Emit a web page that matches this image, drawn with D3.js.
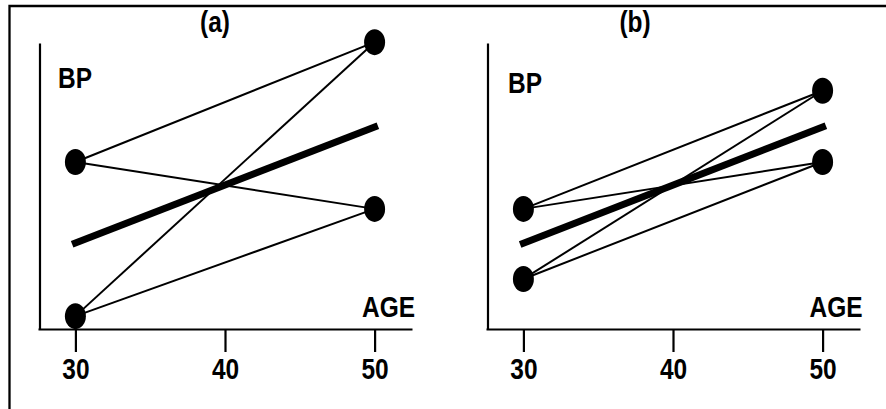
<!DOCTYPE html>
<html>
<head>
<meta charset="utf-8">
<script src="https://cdn.jsdelivr.net/npm/d3@7"></script>
<style>
  body { margin: 0; background: #fff; }
  text { font-family: "Liberation Sans", Arial, sans-serif; font-weight: bold; fill: #000; }
</style>
</head>
<body>
<script>
// panel data: BP (arbitrary units) at age 30 and age 50
const panels = ["(a)", "(b)"];
const ages = [30, 50];
const tickAges = [30, 40, 50];
const leftBP = [[4.5, 58.4], [42.0, 17.5]];
const rightBP = [[100.3, 42.0], [83.3, 58.4]];
const meanBP = [[30.1, 70.6], [30.0, 70.6]];

const W = 886, H = 409;
const FS = 29.5, NARROW = 0.83;   // bold condensed look
const svg = d3.select("body").append("svg").attr("width", W).attr("height", H);

// frame (only top and left edges show)
svg.append("path").attr("d", "M9.5,409V6H886").attr("fill", "none").attr("stroke", "#000").attr("stroke-width", 2.3);

const x = d3.scaleLinear().domain([27.5, 52.5]).range([38, 412]);
const y = d3.scaleLinear().domain([0, 100]).range([329, 43]);

function label(g, tx, ty, anchor, str) {
  g.append("text")
    .attr("transform", `translate(${tx},${ty}) scale(${NARROW},1)`)
    .attr("text-anchor", anchor).attr("font-size", FS).text(str);
}

panels.forEach((name, i) => {
  const g = svg.append("g").attr("transform", `translate(${i * 448},0)`);

  // x axis
  const xa = g.append("g").attr("transform", `translate(0,${y(0)})`)
    .call(d3.axisBottom(x).tickValues(tickAges).tickSize(23).tickSizeOuter(0));
  xa.select(".domain").attr("stroke-width", 2.2);
  xa.selectAll(".tick line").attr("stroke-width", 2.2);
  xa.selectAll(".tick text")
    .attr("font-size", FS).attr("font-family", null)
    .attr("y", 50).attr("dy", 0)
    .attr("transform", `scale(${NARROW},1)`);

  // y axis
  const ya = g.append("g").attr("transform", `translate(${x(27.6)},0)`)
    .call(d3.axisLeft(y).tickValues([]).tickSizeOuter(0));
  ya.select(".domain").attr("stroke-width", 2.2);

  label(g, 415 - i * 0.5, 317, "end", "AGE");
  label(g, 58 + i * 2, 88 + i * 5, "start", "BP");
  label(g, 215 + i * (635 - 215 - 448), 32, "middle", name);

  // thin lines: every age-30 subject to every age-50 subject
  const pairs = [];
  leftBP[i].forEach(a => rightBP[i].forEach(b => pairs.push([a, b])));
  g.selectAll("line.thin").data(pairs).join("line")
    .attr("class", "thin")
    .attr("x1", x(ages[0])).attr("y1", d => y(d[0]))
    .attr("x2", x(ages[1])).attr("y2", d => y(d[1]))
    .attr("stroke", "#000").attr("stroke-width", 2);

  // thick mean line
  g.append("line")
    .attr("x1", x(ages[0])).attr("y1", y(meanBP[i][0]))
    .attr("x2", x(ages[1])).attr("y2", y(meanBP[i][1]))
    .attr("stroke", "#000").attr("stroke-width", 7).attr("stroke-linecap", "square");

  const pts = leftBP[i].map(v => [ages[0], v]).concat(rightBP[i].map(v => [ages[1], v]));
  g.selectAll("ellipse").data(pts).join("ellipse")
    .attr("cx", d => x(d[0])).attr("cy", d => y(d[1]))
    .attr("rx", 10.5).attr("ry", 13).attr("fill", "#000");
});
</script>
</body>
</html>
